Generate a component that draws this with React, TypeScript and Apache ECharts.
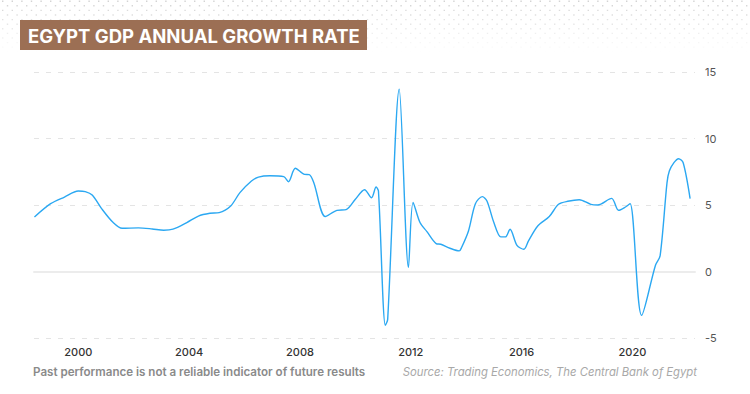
import React, { useEffect, useRef } from "react";
import * as echarts from "echarts";

const periods = [
  "1998-06", "1999-01", "1999-07", "2000-01", "2000-04", "2000-07", "2000-11", "2001-04",
  "2001-08", "2002-03", "2002-09", "2003-02", "2003-06", "2003-12", "2004-05", "2004-10",
  "2005-02", "2005-07", "2005-11", "2006-04", "2006-07", "2006-12", "2007-06", "2007-08",
  "2007-11", "2008-03", "2008-05", "2008-07", "2008-12", "2009-05", "2009-09", "2010-01",
  "2010-05", "2010-08", "2010-10", "2010-11", "2011-02", "2011-03", "2011-08", "2011-12",
  "2012-02", "2012-05", "2012-08", "2012-12", "2013-02", "2013-06", "2013-10", "2013-11",
  "2014-02", "2014-05", "2014-08", "2014-10", "2015-01", "2015-04", "2015-06", "2015-08",
  "2015-11", "2016-02", "2016-04", "2016-08", "2017-01", "2017-05", "2017-09", "2018-02",
  "2018-07", "2018-10", "2019-04", "2019-07", "2019-10", "2019-12", "2020-05", "2020-11",
  "2021-01", "2021-04", "2021-05", "2021-07", "2021-09", "2021-11", "2022-02",
];

const growth = [
  4.1, 5.1, 5.6, 6.05, 6.0, 5.75, 4.75, 3.7,
  3.25, 3.28, 3.2, 3.1, 3.18, 3.68, 4.17, 4.38,
  4.43, 4.93, 5.93, 6.8, 7.1, 7.2, 7.13, 6.75,
  7.76, 7.3, 7.28, 6.68, 4.13, 4.6, 4.65, 5.43,
  6.15, 5.55, 6.35, 6.05, -4.05, -3.6, 13.7, 0.3,
  5.2, 3.68, 3.0, 2.1, 2.05, 1.75, 1.55, 1.8,
  3.05, 5.1, 5.63, 5.3, 3.68, 2.6, 2.6, 3.18,
  1.97, 1.67, 2.3, 3.42, 4.13, 5.05, 5.28, 5.4,
  5.05, 5.0, 5.5, 4.6, 4.85, 5.1, -3.3, 0.47,
  1.17, 6.68, 7.55, 8.18, 8.48, 8.18, 5.48,
];

const yearTicks = [2000, 2004, 2008, 2012, 2016, 2020];
const yTicks = [-5, 0, 5, 10, 15];

const TITLE = "EGYPT GDP ANNUAL GROWTH RATE";
const DISCLAIMER = "Past performance is not a reliable indicator of future results";
const SOURCE = "Source: Trading Economics, The Central Bank of Egypt";

const toYear = (p: string) => {
  const [y, m] = p.split("-").map(Number);
  return y + (m - 1) / 12;
};

function dotsPath(): string {
  let d = "";
  const rows = 12;
  for (let r = 0; r < rows; r++) {
    const y = 0.5 + r * 4.6;
    const off = r % 2 === 0 ? 2 : 6.8;
    for (let x = off; x < 750; x += 9.6) {
      d += `M${x.toFixed(1)} ${y.toFixed(1)}h1.4v1.4h-1.4z`;
    }
  }
  return d;
}

let registered = false;

export default function App() {
  const ref = useRef<HTMLDivElement>(null);
  useEffect(() => {
    if (!ref.current) return;
    if (!registered) {
      echarts.graphic.registerShape("dots", echarts.graphic.extendPath(dotsPath(), {}));
      registered = true;
    }
    const chart = echarts.init(ref.current, null, { renderer: "svg" });
    const font = "Inter, 'Open Sans', sans-serif";
    chart.setOption({
      animation: false,
      backgroundColor: "#ffffff",
      grid: { left: 34, right: 55, top: 72, bottom: 56 },
      xAxis: {
        type: "value",
        min: 1998.4,
        max: 2022.26,
        splitLine: { show: false },
        axisTick: { show: false },
        axisLine: { show: true, lineStyle: { color: "#ececec", width: 2 } },
        axisLabel: {
          customValues: yearTicks,
          formatter: (v: number) => String(Math.round(v)),
          color: "#333",
          fontSize: 11,
          fontWeight: 500,
          fontFamily: font,
          margin: 8,
        },
      },
      yAxis: {
        type: "value",
        position: "right",
        min: -5,
        max: 15,
        interval: 5,
        axisLine: { show: false },
        axisTick: { show: false },
        splitLine: { show: true, lineStyle: { color: "#e4e4e4", type: [5, 7], width: 1 } },
        axisLabel: {
          color: "#555",
          fontSize: 11,
          fontFamily: font,
          margin: 10,
          customValues: yTicks,
        },
      },
      series: [
        {
          type: "line",
          data: periods.map((p, i) => [toYear(p), growth[i]]),
          smooth: 0.3,
          showSymbol: false,
          lineStyle: { color: "#2ba8f2", width: 1.4 },
          itemStyle: { color: "#2ba8f2" },
        },
      ],
      graphic: [
        {
          type: "dots",
          x: 0,
          y: 0,
          z: -10,
          silent: true,
          style: {
            fill: new echarts.graphic.LinearGradient(0, 0, 0, 1, [
              { offset: 0, color: "rgba(205,205,205,0.9)" },
              { offset: 1, color: "rgba(205,205,205,0)" },
            ]),
          },
        },
        {
          type: "rect",
          shape: { x: 20, y: 20, width: 347, height: 30 },
          style: { fill: "#9c6f54" },
        },
        {
          type: "text",
          x: 28,
          y: 36,
          style: {
            text: TITLE,
            fill: "#ffffff",
            fontSize: 18.5,
            fontWeight: 700,
            fontFamily: font,
            verticalAlign: "middle",
            align: "left",
          },
        },
        {
          type: "text",
          x: 33,
          y: 372,
          style: {
            text: DISCLAIMER,
            fill: "#8a8a8a",
            fontSize: 11.6,
            fontWeight: 600,
            fontFamily: font,
            verticalAlign: "middle",
            align: "left",
          },
        },
        {
          type: "text",
          x: 697,
          y: 372,
          style: {
            text: SOURCE,
            fill: "#a8a8a8",
            fontSize: 11.3,
            fontStyle: "italic",
            fontFamily: font,
            verticalAlign: "middle",
            align: "right",
          },
        },
      ],
    });
    return () => chart.dispose();
  }, []);
  return <div ref={ref} style={{ width: 750, height: 394, position: "fixed", left: 0, top: 0 }} />;
}
